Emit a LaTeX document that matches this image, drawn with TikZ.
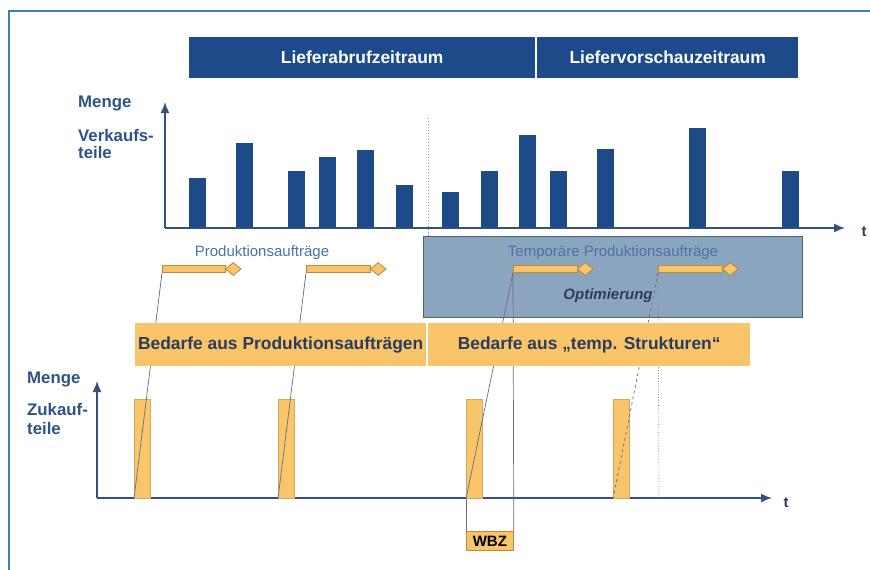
\documentclass[tikz,border=0pt]{standalone}
\usepackage{fontspec}
\setmainfont{Liberation Sans}
\usetikzlibrary{shapes.geometric,arrows.meta,positioning}
\definecolor{hdrblue}{HTML}{1D4A88}
\definecolor{labblue}{HTML}{2E5388}
\definecolor{axblue}{HTML}{34507E}
\definecolor{ordfill}{HTML}{F9C56A}
\definecolor{orddraw}{HTML}{B98A3A}
\definecolor{boxfill}{HTML}{8CA5BE}
\definecolor{boxdraw}{HTML}{4E637A}
\definecolor{txtnavy}{HTML}{2C3C5E}
\definecolor{tmpblue}{HTML}{4A72A6}
\definecolor{linegray}{HTML}{6B6B80}
\definecolor{framecol}{HTML}{3D7DBB}

\begin{document}
\begin{tikzpicture}[x=1pt, y=-1pt,
  header/.style={fill=hdrblue, text=white, font=\fontsize{17.4}{19}\selectfont\bfseries,
    minimum height=41pt, inner sep=0pt, anchor=north west},
  axislabel/.style={text=labblue, font=\fontsize{16.8}{18}\selectfont\bfseries, anchor=base west, inner sep=0pt},
  axis/.style={axblue, line width=1.6pt, -{Latex[length=11pt,width=9pt]}},
  ordbar/.style={fill=ordfill, draw=orddraw, line width=0.8pt, minimum height=7pt,
    inner sep=0pt, anchor=west},
  orddia/.style={diamond, fill=ordfill, draw=orddraw, line width=0.8pt, minimum width=16pt,
    minimum height=13pt, inner sep=0pt},
  zbar/.style={fill=ordfill, draw=ordfill!85!black, line width=0.5pt, minimum width=16pt,
    minimum height=99pt, inner sep=0pt, anchor=north west},
  band/.style={fill=ordfill, text=txtnavy, font=\fontsize{17.4}{19}\selectfont\bfseries,
    minimum height=43pt, inner sep=0pt, anchor=north west},
  conn/.style={linegray, line width=0.7pt},
  small/.style={font=\fontsize{15}{17}\selectfont, inner sep=0pt}
]
\useasboundingbox (0,0) rectangle (870,570);
% frame
\draw[framecol, line width=1.5pt] (9,570) -- (9,11) -- (870,11);

% periods
\node[header, minimum width=346pt] (abruf) at (189,37) {Lieferabrufzeitraum};
\node[header, minimum width=261pt] (vorschau) at (537,37) {Liefervorschauzeitraum};

% upper chart
\node[axislabel] (menge1) at (78,107) {Menge};
\node[axislabel] (verk1) at (78,141) {Verkaufs-};
\node[axislabel] (verk2) at (78,158) {teile};
\coordinate (O1) at (165,228);
\draw[axis] (O1) -- (165,102);
\draw[axis] (O1) -- (845,228);
\node[small, text=txtnavy, font=\fontsize{15}{17}\selectfont\bfseries] (t1) at (864,232) {t};
\foreach \x/\top in {189/178, 236/143, 288/171, 319/157, 357/150, 396/185, 442/192,
  481/171, 519/135, 550/171, 597/149, 689/128, 782/171}
  \fill[hdrblue] (\x,\top) rectangle ({\x+17},227);
\coordinate (sepTop) at (428,118);
\coordinate (sepBot) at (428,236);
\draw[linegray!70, line width=1pt, dotted] (sepTop) -- (sepBot);

% optimisation box
\node[fill=boxfill, draw=boxdraw, line width=1.2pt, minimum width=379pt, minimum height=81pt,
  inner sep=0pt, anchor=north west] (opt) at (423,236) {};
\node[small, text=tmpblue] (tmplab) at (613,253) {Temporäre Produktionsaufträge};
\node[small, text=txtnavy, font=\fontsize{15}{17}\selectfont\bfseries\itshape] (optlab) at (608,296) {Optimierung};
\node[small, text=tmpblue] (prodlab) at (262,253) {Produktionsaufträge};

% orders
\node[ordbar, minimum width=63pt] (o1) at (162,269) {};
\node[orddia, right=-1pt of o1] (d1) {};
\node[ordbar, minimum width=64pt] (o2) at (306,269) {};
\node[orddia, right=-1pt of o2] (d2) {};
\node[ordbar, minimum width=64pt] (o3) at (513,269) {};
\node[orddia, right=-1pt of o3] (d3) {};
\node[ordbar, minimum width=64pt] (o4) at (658,269) {};
\node[orddia, right=-1pt of o4] (d4) {};

% lower chart
\node[axislabel] (menge2) at (27,383) {Menge};
\node[axislabel] (zuk1) at (27,415) {Zukauf-};
\node[axislabel] (zuk2) at (27,434) {teile};
\coordinate (O2) at (97,498);
\draw[axis] (O2) -- (97,381);
\draw[axis] (O2) -- (772,498);
\node[small, text=txtnavy, font=\fontsize{15}{17}\selectfont\bfseries] (t2) at (786,503) {t};
\node[zbar] (z1) at (134,399) {};
\node[zbar] (z2) at (278,399) {};
\node[zbar] (z3) at (466,399) {};
\node[zbar] (z4) at (613,399) {};
\node[fill=ordfill, draw=orddraw, line width=0.8pt, minimum width=47pt, minimum height=19pt,
  inner sep=0pt, anchor=north west, font=\fontsize{15}{17}\selectfont\bfseries] (wbz) at (466,531) {WBZ};
\coordinate (t4) at (659,498);

% connectors
\draw[conn] (o1.south west) -- (z1.south west);
\draw[conn] (o2.south west) -- (z2.south west);
\draw[conn] (o3.south west) -- (z3.south west);
\draw[conn] (o3.south west) -- (wbz.north east);
\draw[conn] (z3.south west) -- (wbz.north west);
\draw[conn, dashed] (o4.south west) -- (z4.south west);
\draw[conn, dotted] (o4.south west) -- (t4);

% demand bands
\node[band, minimum width=291pt] (b1) at (135,323) {Bedarfe aus Produktionsaufträgen};
\node[band, minimum width=322pt] (b2) at (428,323) {Bedarfe aus „temp. Strukturen“};
\end{tikzpicture}
\end{document}
